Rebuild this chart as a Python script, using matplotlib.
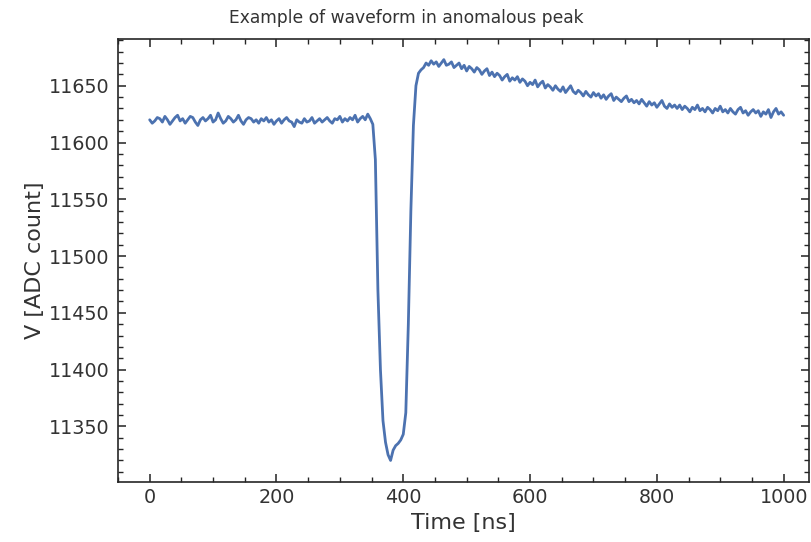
import numpy as np
import matplotlib
matplotlib.use("Agg")
import matplotlib.pyplot as plt
from matplotlib.ticker import MultipleLocator
import seaborn as sns

# digitiser samples, one every 4 ns
SAMPLE_NS = 4

baseline = [
    11620, 11617, 11619, 11622, 11621, 11618, 11623, 11620, 11616, 11619,
    11622, 11624, 11619, 11621, 11617, 11620, 11623, 11622, 11618, 11615,
    11620, 11622, 11619, 11621, 11624, 11618, 11620, 11626, 11621, 11617,
    11619, 11623, 11621, 11618, 11620, 11624, 11619, 11616, 11620, 11622,
    11621, 11618, 11620, 11617, 11621, 11619, 11622, 11618, 11620, 11616,
    11619, 11621, 11617, 11620, 11622, 11619, 11618, 11614, 11620, 11618,
    11617, 11621, 11618, 11619, 11622, 11617, 11619, 11621, 11618, 11620,
    11622, 11619, 11617, 11621, 11620, 11623, 11618, 11621, 11619, 11622,
    11620, 11624, 11618, 11621, 11623, 11620, 11625, 11621,
]

pulse = [
    11616, 11585, 11470, 11400, 11355, 11336, 11325, 11320, 11329, 11333,
    11335, 11338, 11343, 11362, 11440, 11540, 11615, 11650, 11661, 11664,
]

tail = [
    11666, 11670, 11668, 11672, 11669, 11671, 11667, 11670, 11673, 11668,
    11669, 11671, 11666, 11668, 11670, 11665, 11668, 11663, 11667, 11665,
    11662, 11666, 11664, 11660, 11663, 11665, 11659, 11662, 11658, 11661,
    11659, 11655, 11658, 11660, 11654, 11657, 11655, 11658, 11653, 11656,
    11654, 11650, 11653, 11651, 11655, 11649, 11652, 11654, 11648, 11651,
    11649, 11646, 11650, 11647, 11645, 11649, 11644, 11647, 11650, 11645,
    11643, 11646, 11644, 11641, 11645, 11642, 11640, 11644, 11641, 11643,
    11639, 11642, 11638, 11641, 11643, 11637, 11640, 11638, 11636, 11639,
    11641, 11636, 11638, 11635, 11637, 11634, 11638, 11635, 11632, 11636,
    11633, 11635, 11631, 11634, 11637, 11632, 11630, 11634, 11631, 11633,
    11630, 11633, 11629, 11632, 11630, 11627, 11631, 11629, 11633, 11628,
    11630, 11627, 11631, 11629, 11626, 11630, 11628, 11632, 11627, 11629,
    11626, 11630, 11627, 11625, 11629, 11631, 11626, 11628, 11624, 11627,
    11629, 11626, 11628, 11623, 11627, 11625, 11629, 11622, 11627, 11630,
    11625, 11627, 11624,
]

adc = np.array(baseline + pulse + tail)
time_ns = np.arange(len(adc)) * SAMPLE_NS

sns.set_style("ticks")
plt.rcParams.update({
    "xtick.direction": "in",
    "ytick.direction": "in",
    "xtick.top": True,
    "ytick.right": True,
})

fig = plt.figure(figsize=(8.12, 5.42), dpi=100)
ax = fig.add_axes([0.1453, 0.1107, 0.851, 0.817])

ax.plot(time_ns, adc, color="#4C72B0", lw=2.0)

ax.set_xlim(-50, 1040)
ax.set_ylim(11301, 11691)
ax.xaxis.set_major_locator(MultipleLocator(200))
ax.xaxis.set_minor_locator(MultipleLocator(50))
ax.yaxis.set_major_locator(MultipleLocator(50))
ax.yaxis.set_minor_locator(MultipleLocator(10))
ax.tick_params(which="major", length=6, width=1.2, labelsize=13.8, colors=".2")
ax.tick_params(which="minor", length=3.5, width=1.0)
ax.tick_params(axis="y", which="major", pad=6)
ax.tick_params(axis="x", which="major", pad=4.5)
for s in ax.spines.values():
    s.set_linewidth(1.2)

ax.set_xlabel("Time [ns]", fontsize=16, color=".2")
ax.set_ylabel("V [ADC count]", fontsize=16, color=".2", labelpad=3)
fig.text(0.5, 1 - 18 / 542, "Example of waveform in anomalous peak",
         ha="center", va="center", fontsize=12.3, color=".2")

fig.savefig("out.png", dpi=100)
